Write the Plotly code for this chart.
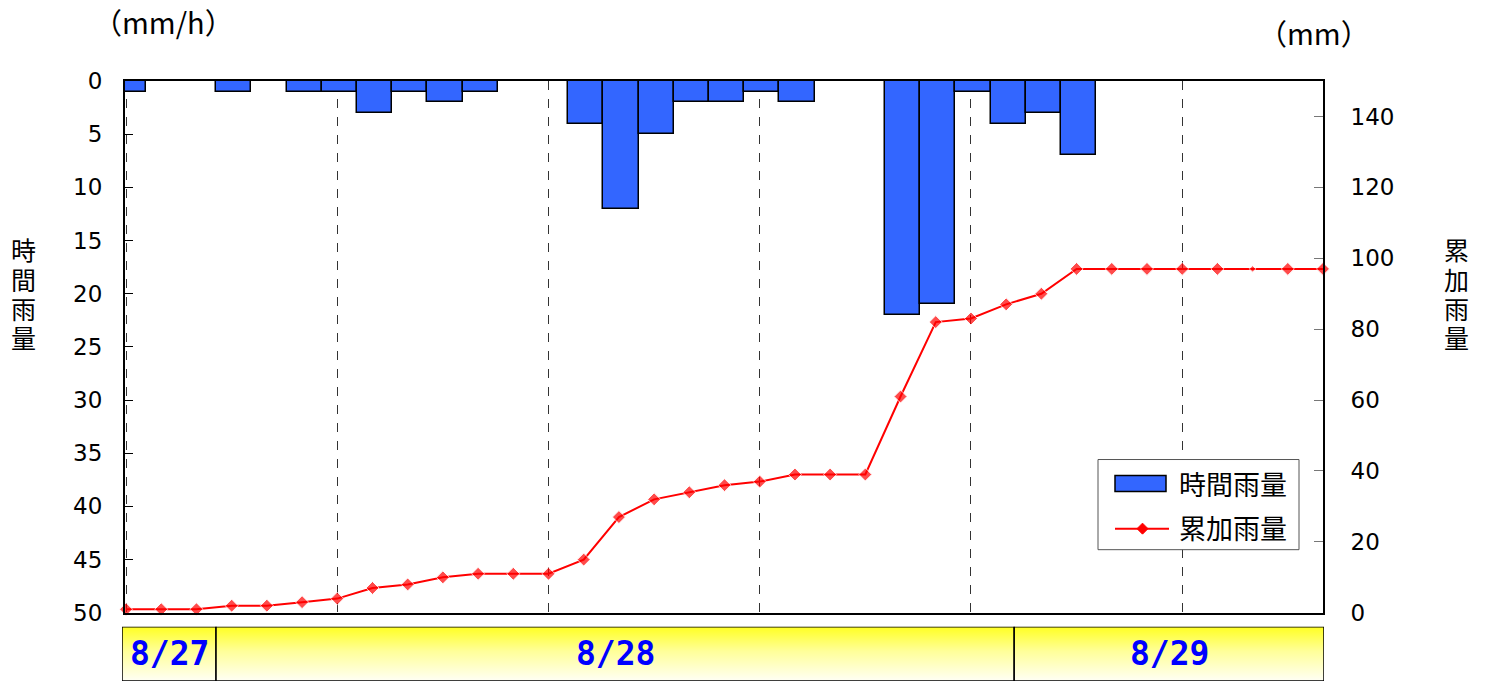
import plotly.graph_objects as go

# ---- data ----
hours = list(range(35))
hourly_rain = [1, 0, 0, 1, 0, 1, 1, 3, 1, 2, 1, 0, 0, 4, 12, 5, 2, 2, 1, 2,
               0, 0, 22, 21, 1, 4, 3, 7, 0, 0, 0, 0, 0, 0, 0]
cumulative_rain = [1, 1, 1, 2, 2, 3, 4, 7, 8, 10, 11, 11, 11, 15, 27, 32, 34, 36, 37, 39,
                   39, 39, 61, 82, 83, 87, 90, 97, 97, 97, 97, 97, 97, 97, 97]
day_labels = ["8/27", "8/28", "8/29"]
day_start = [-0.114, 2.557, 25.23]
day_end = [2.557, 25.23, 34.03]
left_ticks = [0, 5, 10, 15, 20, 25, 30, 35, 40, 45, 50]
right_ticks = [0, 20, 40, 60, 80, 100, 120, 140]
left_title = "時間雨量"
right_title = "累加雨量"

JP = "Noto Sans CJK JP"
NUM = "DejaVu Sans"
W, H = 1488, 698
SY = H / 682.0          # the page is captured at 698 px tall and shown at 682
DY = 2                  # small vertical correction of the capture
ML, MR = 122, 164
MT = round((81 - DY) * SY)
MB = H - round((680 - DY) * SY)
PW, PH = W - ML - MR, H - MT - MB


def px_x(px):
    return (px - ML) / PW


def px_y(py):
    return (H - MB - (py - DY) * SY) / PH


fig = go.Figure()

fig.add_trace(go.Bar(
    x=hours, y=hourly_rain, name=left_title, width=1.0, offset=-0.44,
    marker=dict(color="#3366FF", line=dict(color="black", width=1.5)),
    xaxis="x", yaxis="y", showlegend=False,
))

sizes = [10] * len(hours)
sizes[32] = 5
fig.add_trace(go.Scatter(
    x=hours, y=cumulative_rain, name=right_title, mode="lines+markers",
    line=dict(color="#FF0000", width=2),
    marker=dict(symbol="diamond", size=sizes, color="#FF0000"),
    xaxis="x", yaxis="y2", cliponaxis=False, showlegend=False,
))

# date band with vertical yellow gradient
for lab, s, e in zip(day_labels, day_start, day_end):
    fig.add_trace(go.Scatter(
        x=[s, e, e, s, s], y=[0, 0, 1, 1, 0], mode="lines", fill="toself",
        line=dict(color="black", width=1.5),
        fillgradient=dict(type="vertical",
                          colorscale=[[0, "#FFFFF5"], [0.55, "#FFFF99"], [1, "#FFFF22"]]),
        xaxis="x3", yaxis="y3", showlegend=False, hoverinfo="skip",
    ))
    fig.add_annotation(x=(s + e) / 2, y=0.5, xref="x3", yref="y3", text=lab,
                       showarrow=False, xanchor="center", yanchor="middle",
                       font=dict(family="DejaVu Sans Mono", size=33, color="#0000FF",
                                 weight="bold"))

# vertical stacked axis titles
char_y = [248, 278, 307, 336]
for ch, cy in zip(left_title, char_y):
    fig.add_annotation(x=px_x(23), y=px_y(cy), xref="paper", yref="paper", text=ch,
                       showarrow=False, xanchor="center", yanchor="middle", height=29,
                       font=dict(family=JP, size=25, color="black"))
for ch, cy in zip(right_title, char_y):
    fig.add_annotation(x=px_x(1457), y=px_y(cy), xref="paper", yref="paper", text=ch,
                       showarrow=False, xanchor="center", yanchor="middle", height=29,
                       font=dict(family=JP, size=25, color="black"))

fig.add_annotation(x=px_x(163), y=px_y(21), xref="paper", yref="paper",
                   text="（mm/h）", showarrow=False, xanchor="center", yanchor="middle",
                   font=dict(family=JP, size=29, color="black"))
fig.add_annotation(x=px_x(1314), y=px_y(32), xref="paper", yref="paper",
                   text="（mm）", showarrow=False, xanchor="center", yanchor="middle",
                   font=dict(family=JP, size=29, color="black"))

# legend (drawn as a framed key)
shapes = [
    dict(type="rect", xref="paper", yref="paper",
         x0=px_x(1098), x1=px_x(1299), y0=px_y(549), y1=px_y(459),
         fillcolor="white", line=dict(color="#555555", width=1), layer="above"),
    dict(type="rect", xref="paper", yref="paper",
         x0=px_x(1115), x1=px_x(1166), y0=px_y(491), y1=px_y(475),
         fillcolor="#3366FF", line=dict(color="black", width=1.5), layer="above"),
    dict(type="line", xref="paper", yref="paper",
         x0=px_x(1115), x1=px_x(1169), y0=px_y(528), y1=px_y(528),
         line=dict(color="#FF0000", width=2), layer="above"),
]
cx, cy, r = 1142.5, 528, 5.5
diamond = "M {} {} L {} {} L {} {} L {} {} Z".format(
    px_x(cx), px_y(cy - r), px_x(cx + r), px_y(cy),
    px_x(cx), px_y(cy + r), px_x(cx - r), px_y(cy))
shapes.append(dict(type="path", xref="paper", yref="paper", path=diamond,
                   fillcolor="#FF0000", line=dict(color="#FF0000", width=1), layer="above"))
for txt, ty in zip([left_title, right_title], [483, 527]):
    fig.add_annotation(x=px_x(1177), y=px_y(ty), xref="paper", yref="paper", text=txt,
                       showarrow=False, xanchor="left", yanchor="middle",
                       font=dict(family=JP, size=27, color="black"))

fig.update_layout(
    width=W, height=H,
    margin=dict(l=ML, r=MR, t=MT, b=MB),
    paper_bgcolor="white", plot_bgcolor="white",
    font=dict(family=JP, size=22, color="black"),
    bargap=0,
    showlegend=False,
    shapes=shapes,
    xaxis=dict(domain=[px_x(125), px_x(1323)], range=[-0.03, 34.0],
               showticklabels=False, ticks="",
               showgrid=True, tick0=0, dtick=6, griddash="dash",
               gridcolor="#333333", gridwidth=1,
               showline=True, linecolor="black", linewidth=2, mirror=True,
               zeroline=False, anchor="y"),
    yaxis=dict(domain=[px_y(612), 1.0], range=[50, 0], tickvals=left_ticks,
               ticks="inside", ticklen=8, tickcolor="black", tickwidth=1,
               showline=True, linecolor="black", linewidth=2, mirror=True,
               showgrid=False, zeroline=False, ticklabelstandoff=16,
               tickfont=dict(family=NUM, size=23)),
    yaxis2=dict(overlaying="y", side="right", range=[0, 150], tickvals=right_ticks,
                ticks="inside", ticklen=9, tickcolor="#777777", tickwidth=1,
                showline=True, linecolor="black", linewidth=2,
                showgrid=False, zeroline=False, ticklabelstandoff=21,
                tickfont=dict(family=NUM, size=23), anchor="x"),
    xaxis3=dict(domain=[0, 1], range=[-0.114, 34.03], visible=False, anchor="y3"),
    yaxis3=dict(domain=[0, min(1.0, px_y(626))], range=[0, 1], visible=False, anchor="x3"),
)

fig.write_html("out.html", config={"displayModeBar": False},
               post_script="document.body.style.margin='0px';"
                           "document.body.style.overflow='hidden';")
